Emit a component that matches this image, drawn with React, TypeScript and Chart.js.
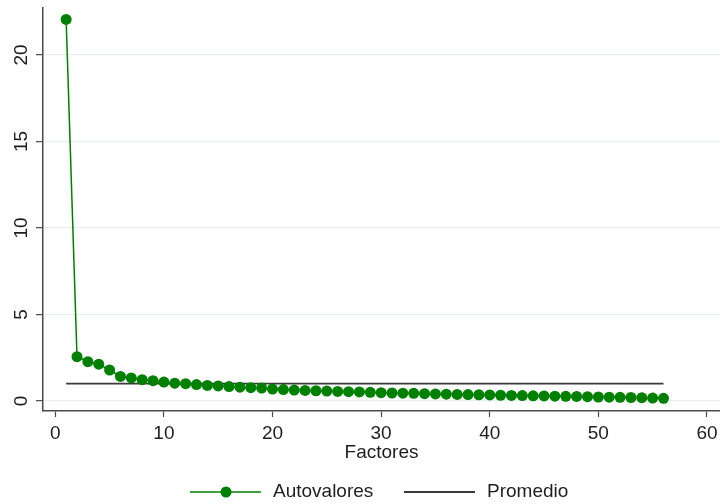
import React, { useEffect, useRef } from "react";
import { Chart, registerables } from "chart.js";

Chart.register(...registerables);

const eigenvalues: number[] = [
  22.06, 2.56, 2.27, 2.13, 1.79, 1.42, 1.33, 1.23, 1.17, 1.09,
  1.03, 1.0, 0.95, 0.9, 0.87, 0.83, 0.8, 0.77, 0.75, 0.69,
  0.66, 0.63, 0.61, 0.59, 0.57, 0.55, 0.54, 0.52, 0.5, 0.48,
  0.46, 0.45, 0.44, 0.42, 0.41, 0.39, 0.38, 0.37, 0.36, 0.35,
  0.33, 0.32, 0.31, 0.3, 0.29, 0.28, 0.27, 0.26, 0.25, 0.23,
  0.22, 0.21, 0.2, 0.19, 0.17, 0.15,
];
const averageValue = 1;
const averageRange: number[] = [1, 56];
const xTicks: number[] = [0, 10, 20, 30, 40, 50, 60];
const yTicks: number[] = [0, 5, 10, 15, 20];
const xTitle = "Factores";
const seriesLabel = "Autovalores";
const averageLabel = "Promedio";

const FONT = '"Liberation Sans", Arial, Helvetica, sans-serif';
const GREEN = "#008000";
const AVG_COLOR = "#3a3a3a";
const AXIS_COLOR = "#4a4a4a";
const TEXT_COLOR = "#1e1e1e";

export default function App() {
  const ref = useRef<HTMLCanvasElement | null>(null);

  useEffect(() => {
    document.body.style.margin = "0";
    const canvas = ref.current;
    if (!canvas) return;

    const overlay = {
      id: "overlay",
      afterDraw(chart: any) {
        const ctx = chart.ctx as CanvasRenderingContext2D;
        const ys = chart.scales.y;
        const area = chart.chartArea;
        ctx.save();
        ctx.fillStyle = TEXT_COLOR;
        ctx.font = `19px ${FONT}`;
        ctx.textAlign = "center";
        ctx.textBaseline = "middle";
        for (const v of yTicks) {
          const py = ys.getPixelForValue(v);
          ctx.save();
          ctx.translate(22, py);
          ctx.rotate(-Math.PI / 2);
          ctx.fillText(String(v), 0, 0);
          ctx.restore();
        }
        ctx.fillText(xTitle, (area.left + area.right) / 2, 453);
        const ly = 492;
        ctx.strokeStyle = GREEN;
        ctx.lineWidth = 1.5;
        ctx.beginPath();
        ctx.moveTo(190, ly);
        ctx.lineTo(261, ly);
        ctx.stroke();
        ctx.fillStyle = GREEN;
        ctx.beginPath();
        ctx.arc(226, ly, 5.5, 0, Math.PI * 2);
        ctx.fill();
        ctx.fillStyle = TEXT_COLOR;
        ctx.textAlign = "left";
        ctx.fillText(seriesLabel, 273, ly);
        ctx.strokeStyle = AVG_COLOR;
        ctx.lineWidth = 1.8;
        ctx.beginPath();
        ctx.moveTo(404, ly);
        ctx.lineTo(475, ly);
        ctx.stroke();
        ctx.fillText(averageLabel, 487, ly);
        ctx.restore();
      },
    };

    const chart = new Chart(canvas, {
      type: "line",
      data: {
        datasets: [
          {
            label: averageLabel,
            data: averageRange.map((x) => ({ x, y: averageValue })),
            borderColor: AVG_COLOR,
            borderWidth: 1.8,
            pointRadius: 0,
            fill: false,
            order: 2,
          },
          {
            label: seriesLabel,
            data: eigenvalues.map((v, i) => ({ x: i + 1, y: v })),
            borderColor: GREEN,
            backgroundColor: GREEN,
            borderWidth: 1.5,
            pointRadius: 5.5,
            pointBackgroundColor: GREEN,
            pointBorderWidth: 0,
            fill: false,
            order: 1,
          },
        ],
      },
      options: {
        responsive: false,
        animation: false,
        layout: { autoPadding: false, padding: { top: 8, left: 0, right: 0, bottom: 0 } },
        plugins: {
          legend: { display: false },
          tooltip: { enabled: false },
        },
        scales: {
          x: {
            type: "linear",
            min: -1.13,
            max: 61.2,
            afterBuildTicks: (s: any) => {
              s.ticks = xTicks.map((v) => ({ value: v }));
            },
            afterFit: (s: any) => {
              s.height = 93;
              s.paddingLeft = 0;
              s.paddingRight = 0;
            },
            grid: {
              drawOnChartArea: false,
              tickLength: 6,
              tickColor: AXIS_COLOR,
              tickWidth: 1.2,
            },
            border: { display: true, color: AXIS_COLOR, width: 1.5 },
            ticks: {
              color: TEXT_COLOR,
              font: { family: FONT, size: 19 },
              padding: 5,
              maxRotation: 0,
              autoSkip: false,
            },
          },
          y: {
            type: "linear",
            min: -0.58,
            max: 22.72,
            afterBuildTicks: (s: any) => {
              s.ticks = yTicks.map((v) => ({ value: v }));
            },
            afterFit: (s: any) => {
              s.width = 43;
              s.paddingTop = 0;
              s.paddingBottom = 0;
            },
            grid: {
              color: "#e8eff2",
              lineWidth: 1.3,
              tickLength: 7,
              tickColor: AXIS_COLOR,
              tickWidth: 1.2,
            },
            border: { display: true, color: AXIS_COLOR, width: 1.5 },
            ticks: { display: false },
          },
        },
      },
      plugins: [overlay],
    } as any);

    return () => chart.destroy();
  }, []);

  return (
    <div style={{ width: 720, height: 504 }}>
      <canvas ref={ref} width={720} height={504} style={{ display: "block", width: 720, height: 504 }} />
    </div>
  );
}
